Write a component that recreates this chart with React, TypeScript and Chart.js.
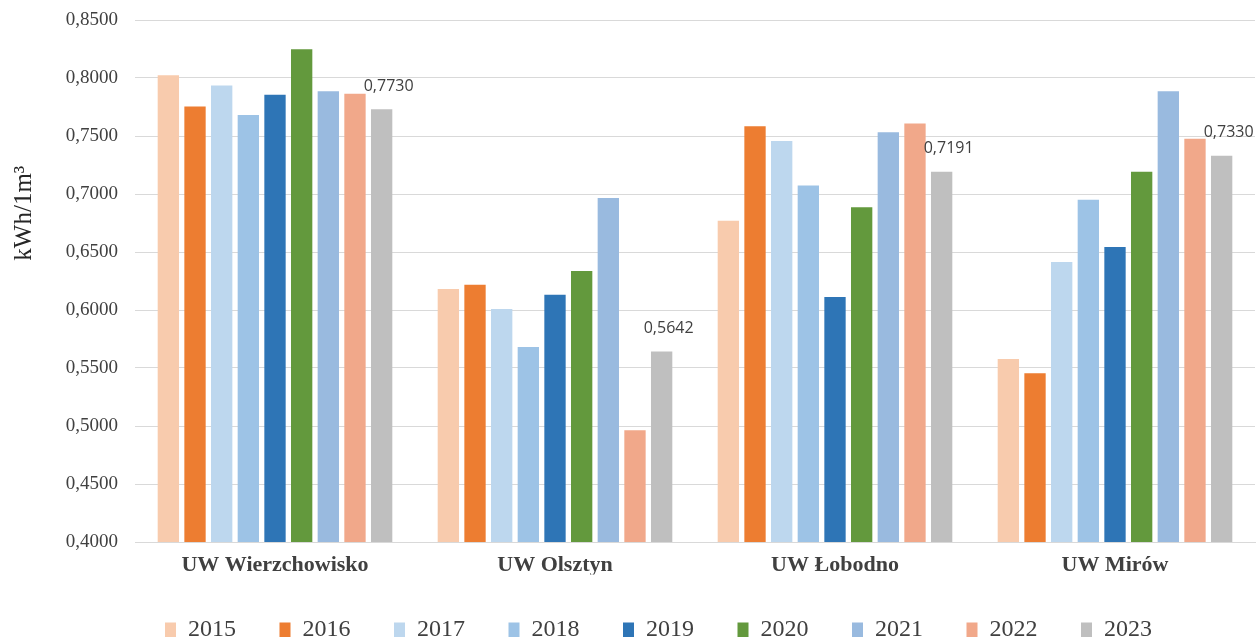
import React, { useEffect, useRef } from "react";
import { Chart, registerables } from "chart.js";

Chart.register(...registerables);

// Water treatment plants (categories on the x axis)
const categories = ["UW Wierzchowisko", "UW Olsztyn", "UW Łobodno", "UW Mirów"];

// Years shown as separate bar series
const years = ["2015", "2016", "2017", "2018", "2019", "2020", "2021", "2022", "2023"];

// Energy use per 1 m³ of water, kWh
const v2015 = [0.8023, 0.6181, 0.677, 0.5578];
const v2016 = [0.7755, 0.6218, 0.7584, 0.5454];
const v2017 = [0.7936, 0.6009, 0.7457, 0.6414];
const v2018 = [0.7681, 0.5681, 0.7074, 0.6951];
const v2019 = [0.7856, 0.6132, 0.6112, 0.6543];
const v2020 = [0.8247, 0.6336, 0.6885, 0.7192];
const v2021 = [0.7885, 0.6966, 0.7532, 0.7885];
const v2022 = [0.7865, 0.4963, 0.7607, 0.7477];
const v2023 = [0.773, 0.5642, 0.7191, 0.733];

const seriesValues = [v2015, v2016, v2017, v2018, v2019, v2020, v2021, v2022, v2023];

const seriesColors = [
  "#F8CBAD",
  "#ED7D31",
  "#BDD7EE",
  "#9DC3E6",
  "#2E75B6",
  "#63993D",
  "#99BADF",
  "#F1A88A",
  "#BFBFBF",
];

// Y axis range and tick step
const yMin = 0.4;
const yMax = 0.85;
const yStep = 0.05;

const yTitle = "kWh/1m³";

// Only the latest year carries value labels
const labeledSeries = 8;

const SERIF = '"Liberation Serif", "Times New Roman", serif';
const SANS = '"Open Sans", "Noto Sans", sans-serif';
const TEXT = "#404040";
const GRID = "#d9d9d9";

const fmt = (v: number) => v.toFixed(4).replace(".", ",");

const yTitlePlugin = {
  id: "yTitleText",
  afterDraw(chart: any) {
    const { ctx, chartArea } = chart;
    const cy = chartArea.top + (chartArea.bottom - chartArea.top) * 0.37;
    ctx.save();
    ctx.translate(31, cy);
    ctx.rotate(-Math.PI / 2);
    ctx.font = `25px ${SERIF}`;
    ctx.fillStyle = "#262626";
    ctx.textAlign = "center";
    ctx.textBaseline = "alphabetic";
    ctx.fillText(yTitle, 0, 0);
    ctx.restore();
  },
};

const valueLabelPlugin = {
  id: "valueLabels",
  afterDatasetsDraw(chart: any) {
    const { ctx } = chart;
    const meta = chart.getDatasetMeta(labeledSeries);
    const values = seriesValues[labeledSeries];
    ctx.save();
    ctx.font = `16px ${SANS}`;
    ctx.fillStyle = TEXT;
    ctx.textAlign = "center";
    ctx.textBaseline = "middle";
    meta.data.forEach((bar: any, i: number) => {
      const { x, y } = bar.getProps(["x", "y"], true);
      ctx.fillText(fmt(values[i]), x + 7, y - 23);
    });
    ctx.restore();
  },
};

export default function App() {
  const canvasRef = useRef<HTMLCanvasElement>(null);

  useEffect(() => {
    if (!canvasRef.current) return;
    const chart = new Chart(canvasRef.current, {
      type: "bar",
      data: {
        labels: categories,
        datasets: years.map((y, i) => ({
          label: y,
          data: seriesValues[i],
          backgroundColor: seriesColors[i],
          borderWidth: 0,
          categoryPercentage: 0.857,
          barPercentage: 0.8,
        })),
      },
      options: {
        responsive: false,
        animation: false,
        devicePixelRatio: 1,
        layout: { padding: { top: 20, left: 62, right: 2, bottom: 0 } },
        plugins: {
          tooltip: { enabled: false },
          legend: {
            position: "bottom",
            labels: {
              font: { family: SERIF, size: 24 },
              color: TEXT,
              boxWidth: 11,
              boxHeight: 15,
              padding: 43.5,
            },
          },
        },
        scales: {
          x: {
            afterFit: (s: any) => {
              s.height = 32.5;
            },
            grid: { display: false, drawTicks: false },
            border: { display: true, color: GRID, width: 1 },
            ticks: {
              font: { family: SERIF, size: 22, weight: "bold" },
              color: TEXT,
              padding: 10,
            },
          },
          y: {
            min: yMin,
            max: yMax,
            afterFit: (s: any) => {
              s.width = 73;
              s.paddingTop = 0;
              s.paddingBottom = 0;
            },
            grid: { color: GRID, lineWidth: 1, drawTicks: false },
            border: { display: false },
            ticks: {
              stepSize: yStep,
              font: { family: SERIF, size: 19 },
              color: TEXT,
              padding: 17,
              callback: (v: any) => fmt(Number(v)),
            },
          },
        },
      },
      plugins: [yTitlePlugin, valueLabelPlugin],
    });
    return () => chart.destroy();
  }, []);

  return (
    <div
      style={{
        position: "fixed",
        left: 0,
        top: 0,
        width: 1257,
        height: 637,
        overflow: "hidden",
        background: "#fff",
      }}
    >
      <canvas ref={canvasRef} width={1257} height={652} style={{ display: "block" }} />
    </div>
  );
}
